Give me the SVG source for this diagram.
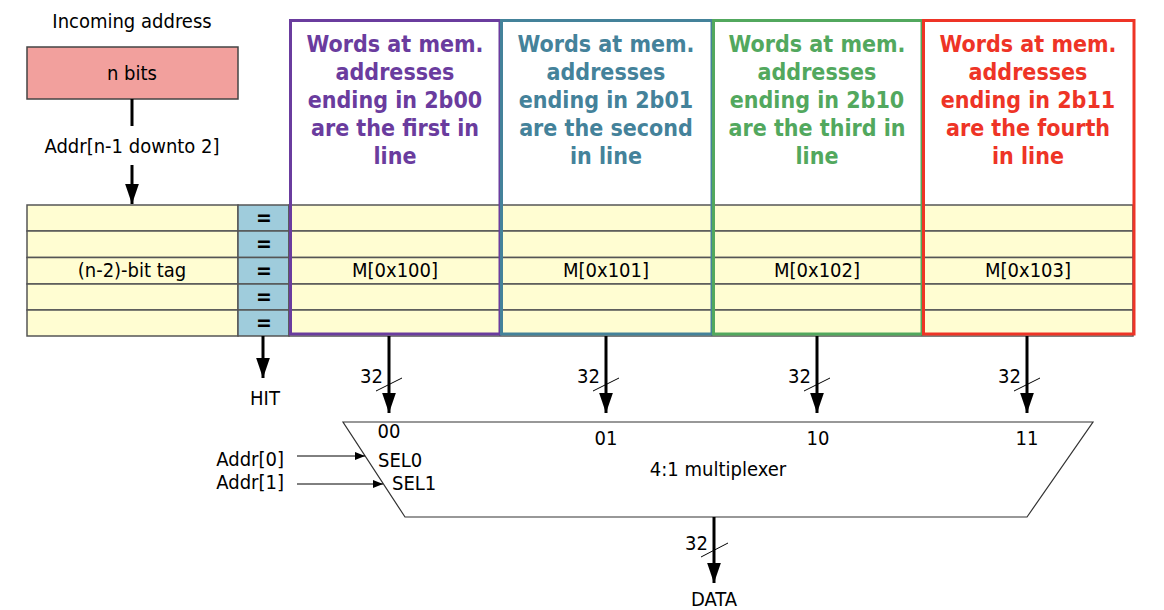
<svg xmlns="http://www.w3.org/2000/svg" width="1164" height="610" viewBox="0 0 1164 610">
<style>
text{font-family:"DejaVu Sans Condensed","DejaVu Sans",sans-serif;font-stretch:condensed;font-size:20px;fill:#000;text-anchor:middle}
.hd{font-weight:bold;font-size:23px}
.eq{font-weight:bold;font-size:21px}
.row{fill:#FFFDD2;stroke:#555;stroke-width:1.5}
.cmp{fill:#9FCCDC;stroke:#555;stroke-width:1.5}
.bus{stroke:#000;stroke-width:3;fill:none}
.thin{stroke:#000;stroke-width:1;fill:none}
.sl{stroke:#000;stroke-width:1}
</style>
<defs>
<marker id="ah" markerWidth="7" markerHeight="4.6" refX="6.7" refY="2.3" orient="auto" markerUnits="strokeWidth"><path d="M0,0 L6.7,2.3 L0,4.6 z" fill="#000"/></marker>
<marker id="as" markerWidth="10" markerHeight="8" refX="10" refY="4" orient="auto" markerUnits="strokeWidth"><path d="M0,0 L10,4 L0,8 z" fill="#000"/></marker>
</defs>

<g id="incoming">
<text x="132" y="28">Incoming address</text>
<rect x="27" y="47" width="211" height="52" fill="#F2A09D" stroke="#444" stroke-width="1.5"/>
<text x="132" y="80">n bits</text>
</g>

<g id="table">
<rect class="row" x="27" y="205" width="211" height="26"/>
<rect class="row" x="27" y="231" width="211" height="26.5"/>
<rect class="row" x="27" y="257.5" width="211" height="26.5"/>
<rect class="row" x="27" y="284" width="211" height="26"/>
<rect class="row" x="27" y="310" width="211" height="26"/>
<rect class="cmp" x="238" y="205" width="51" height="26"/>
<rect class="cmp" x="238" y="231" width="51" height="26.5"/>
<rect class="cmp" x="238" y="257.5" width="51" height="26.5"/>
<rect class="cmp" x="238" y="284" width="51" height="26"/>
<rect class="cmp" x="238" y="310" width="51" height="26"/>
<rect class="row" x="289" y="205" width="844" height="26"/>
<rect class="row" x="289" y="231" width="844" height="26.5"/>
<rect class="row" x="289" y="257.5" width="844" height="26.5"/>
<rect class="row" x="289" y="284" width="844" height="26"/>
<rect class="row" x="289" y="310" width="844" height="26"/>
<line x1="500" y1="205" x2="500" y2="336" stroke="#555" stroke-width="1.5"/>
<line x1="712" y1="205" x2="712" y2="336" stroke="#555" stroke-width="1.5"/>
<line x1="922" y1="205" x2="922" y2="336" stroke="#555" stroke-width="1.5"/>
<text x="132" y="277">(n-2)-bit tag</text>
<text class="eq" x="264" y="225">=</text>
<text class="eq" x="264" y="251">=</text>
<text class="eq" x="264" y="278">=</text>
<text class="eq" x="264" y="304">=</text>
<text class="eq" x="264" y="330">=</text>
<text x="395" y="277">M[0x100]</text>
<text x="606" y="277">M[0x101]</text>
<text x="817" y="277">M[0x102]</text>
<text x="1028" y="277">M[0x103]</text>
</g>

<g id="col00">
<rect x="290.5" y="20.5" width="209.5" height="313.5" fill="none" stroke="#6A3C9E" stroke-width="3"/>
<text class="hd" style="fill:#6A3C9E" x="395"><tspan x="395" y="52">Words at mem.</tspan><tspan x="395" y="80">addresses</tspan><tspan x="395" y="108">ending in 2b00</tspan><tspan x="395" y="136">are the first in</tspan><tspan x="395" y="164">line</tspan></text>
</g>
<g id="col01">
<rect x="501.5" y="20.5" width="210.5" height="313.5" fill="none" stroke="#44829A" stroke-width="3"/>
<text class="hd" style="fill:#44829A" x="606"><tspan x="606" y="52">Words at mem.</tspan><tspan x="606" y="80">addresses</tspan><tspan x="606" y="108">ending in 2b01</tspan><tspan x="606" y="136">are the second</tspan><tspan x="606" y="164">in line</tspan></text>
</g>
<g id="col10">
<rect x="713.5" y="20.5" width="208.5" height="313.5" fill="none" stroke="#52A85E" stroke-width="3"/>
<text class="hd" style="fill:#52A85E" x="817"><tspan x="817" y="52">Words at mem.</tspan><tspan x="817" y="80">addresses</tspan><tspan x="817" y="108">ending in 2b10</tspan><tspan x="817" y="136">are the third in</tspan><tspan x="817" y="164">line</tspan></text>
</g>
<g id="col11">
<rect x="923.5" y="20.5" width="210.5" height="313.5" fill="none" stroke="#EE3426" stroke-width="3"/>
<text class="hd" style="fill:#EE3426" x="1028"><tspan x="1028" y="52">Words at mem.</tspan><tspan x="1028" y="80">addresses</tspan><tspan x="1028" y="108">ending in 2b11</tspan><tspan x="1028" y="136">are the fourth</tspan><tspan x="1028" y="164">in line</tspan></text>
</g>

<g id="mux">
<polygon points="343,422 1093,422 1027,517 405,517" fill="#fff" stroke="#333" stroke-width="1.2"/>
<text x="389" y="438">00</text>
<text x="606" y="445">01</text>
<text x="818" y="445">10</text>
<text x="1027" y="445">11</text>
<text x="718" y="476">4:1 multiplexer</text>
<text x="378" y="467" style="text-anchor:start">SEL0</text>
<text x="392" y="490" style="text-anchor:start">SEL1</text>
</g>

<g id="labels">
<text x="132" y="153">Addr[n-1 downto 2]</text>
<text x="265" y="405">HIT</text>
<text x="284" y="466" style="text-anchor:end">Addr[0]</text>
<text x="284" y="489" style="text-anchor:end">Addr[1]</text>
<text x="714" y="606">DATA</text>
<text x="383" y="383" style="text-anchor:end">32</text>
<text x="600" y="383" style="text-anchor:end">32</text>
<text x="811" y="383" style="text-anchor:end">32</text>
<text x="1021" y="383" style="text-anchor:end">32</text>
<text x="708" y="550" style="text-anchor:end">32</text>
</g>

<g id="connectors">
<line class="bus" x1="132" y1="99" x2="132" y2="126"/>
<line class="bus" x1="132" y1="165" x2="132" y2="204" marker-end="url(#ah)"/>
<line class="bus" x1="263" y1="336" x2="263" y2="378" marker-end="url(#ah)"/>
<line class="bus" x1="389" y1="336" x2="389" y2="413" marker-end="url(#ah)"/>
<line class="bus" x1="606" y1="336" x2="606" y2="413" marker-end="url(#ah)"/>
<line class="bus" x1="817" y1="336" x2="817" y2="413" marker-end="url(#ah)"/>
<line class="bus" x1="1027" y1="336" x2="1027" y2="413" marker-end="url(#ah)"/>
<line class="bus" x1="714" y1="517" x2="714" y2="583" marker-end="url(#ah)"/>
<line class="sl" x1="376" y1="391" x2="402" y2="378"/>
<line class="sl" x1="593" y1="391" x2="619" y2="378"/>
<line class="sl" x1="804" y1="391" x2="830" y2="378"/>
<line class="sl" x1="1014" y1="391" x2="1040" y2="378"/>
<line class="sl" x1="701" y1="557" x2="728" y2="543"/>
<line class="thin" x1="297" y1="456" x2="365" y2="456" marker-end="url(#as)"/>
<line class="thin" x1="297" y1="484" x2="383" y2="484" marker-end="url(#as)"/>
</g>
</svg>
